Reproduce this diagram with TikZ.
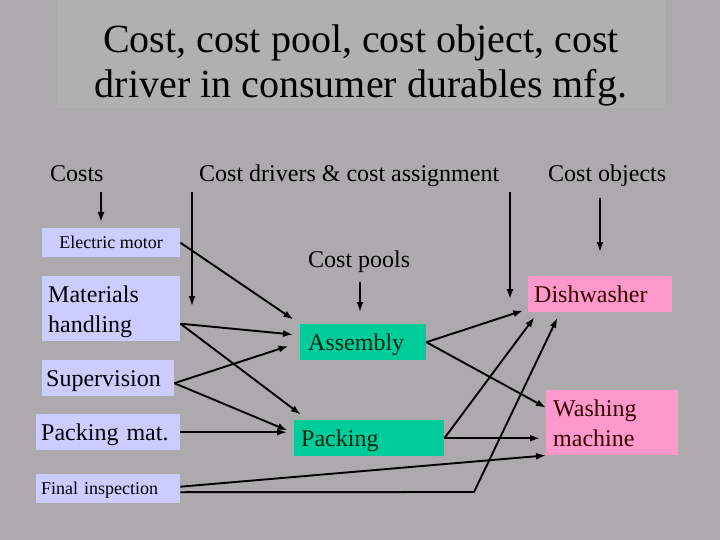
\documentclass[tikz,border=0pt]{standalone}
\usepackage{fontspec}
\setmainfont{Liberation Serif}
\usetikzlibrary{arrows.meta}
\definecolor{slidebg}{RGB}{172,170,172}
\definecolor{titleband}{RGB}{176,176,176}
\definecolor{costlav}{RGB}{204,204,255}
\definecolor{poolgreen}{RGB}{0,204,153}
\definecolor{objpink}{RGB}{255,153,204}
\definecolor{pooltext}{RGB}{0,40,20}
\definecolor{objtext}{RGB}{51,0,0}
\begin{document}
\begin{tikzpicture}[x=1pt,y=-1pt]
\tikzstyle{every node}+=[inner sep=0pt]
\tikzstyle{big}=[font=\fontsize{24}{30}\selectfont]
\tikzstyle{small}=[font=\fontsize{18}{22}\selectfont]
\tikzstyle{head}=[big,anchor=base west]
\tikzstyle{onebox}=[big,anchor=north west,text height=20.6pt,text depth=4.8pt]
\tikzstyle{smallbox}=[small,anchor=north west,text height=15.5pt,text depth=3.6pt]
\tikzstyle{twobox}=[big,anchor=north west,text height=20pt,text depth=33pt]
\tikzstyle{flow}=[line width=1.9pt,-{Latex[length=10pt,width=7pt]}]
\fill [slidebg] (0,0) rectangle (720,540);
\fill [titleband] (57,0) rectangle (665,108);
\node [align=center,font=\fontsize{40}{45}\selectfont] (title) at (361,65) {Cost, cost pool, cost object, cost\\driver in consumer durables mfg.};

\node [head] (costs) at (50,182) {Costs};
\node [head] (drivers) at (199,182) {Cost drivers \& cost assignment};
\node [head] (objects) at (548,182) {Cost objects};
\node [head] (pools) at (308,267) {Cost pools};

\node [smallbox,fill=costlav,minimum width=138pt,minimum height=29pt] (em) at (42,228) {Electric motor};
\node [twobox,fill=costlav,minimum width=138pt,minimum height=65pt,text width=126pt,align=left] (mh) at (42,276) {Materials\\handling};
\node [onebox,fill=costlav,minimum width=132pt,minimum height=36pt,text width=124pt,align=left] (sup) at (42,360) {Supervision};
\node [onebox,fill=costlav,minimum width=144pt,minimum height=36pt,text width=134pt,align=left] (pm) at (36,414) {Packing mat.};
\node [smallbox,fill=costlav,minimum width=144pt,minimum height=29pt,text width=134pt,align=left] (fi) at (36,474) {Final inspection};

\node [onebox,fill=poolgreen,text=pooltext,minimum width=126pt,minimum height=36pt,text width=110pt,align=left] (asm) at (300,324) {Assembly};
\node [onebox,fill=poolgreen,text=pooltext,minimum width=150pt,minimum height=36pt,text width=136pt,align=left] (pk) at (294,420) {Packing};

\node [onebox,fill=objpink,text=objtext,minimum width=144pt,minimum height=36pt,text width=132pt,align=left] (dw) at (528,276) {Dishwasher};
\node [twobox,fill=objpink,text=objtext,minimum width=132pt,minimum height=65pt,text width=118pt,align=left] (wm) at (546,390) {Washing\\machine};

\coordinate (costs0) at (101,192);
\coordinate (costs1) at (101,222);
\coordinate (drvl0) at (192,192);
\coordinate (drvl1) at (192,306);
\coordinate (drvr0) at (510,192);
\coordinate (drvr1) at (510,299);
\coordinate (pools0) at (360,282);
\coordinate (pools1) at (360,312);
\coordinate (obj0) at (600,198);
\coordinate (obj1) at (600,252);
\coordinate (fibend) at (474,492);

\draw [flow] (costs0) -- (costs1);
\draw [flow] (drvl0) -- (drvl1);
\draw [flow] (drvr0) -- (drvr1);
\draw [flow] (pools0) -- (pools1);
\draw [flow] (obj0) -- (obj1);

\draw [flow,shorten >=8pt] (em.east) -- (asm.north west);
\draw [flow,shorten >=7pt] ([yshift=-15pt]mh.east) -- ([yshift=7pt]asm.west);
\draw [flow,shorten >=9pt] ([yshift=-15pt]mh.east) -- ([xshift=14pt]pk.north west);
\draw [flow,shorten >=12pt] ([yshift=-5pt]sup.east) -- (asm.west);
\draw [flow,shorten >=7pt] ([yshift=-5pt]sup.east) -- ([yshift=5pt]pk.west);
\draw [flow,shorten >=7pt] (pm.east) -- (pm.east -| pk.west);
\draw [flow] ([yshift=2pt]fi.east) -- (wm.south west);
\draw [flow,shorten >=6pt] ([yshift=-3.5pt]fi.east) -- (fibend) -- ([xshift=32pt]dw.south west);

\draw [flow,shorten >=5pt] (asm.east) -- ([yshift=3.5pt]dw.south west);
\draw [flow] (asm.east) -- ([yshift=15pt]wm.west);
\draw [flow,shorten >=6pt] (pk.east) -- ([xshift=10pt]dw.south west);
\draw [flow,shorten >=6pt] (pk.east) -- (pk.east -| wm.west);
\end{tikzpicture}
\end{document}
